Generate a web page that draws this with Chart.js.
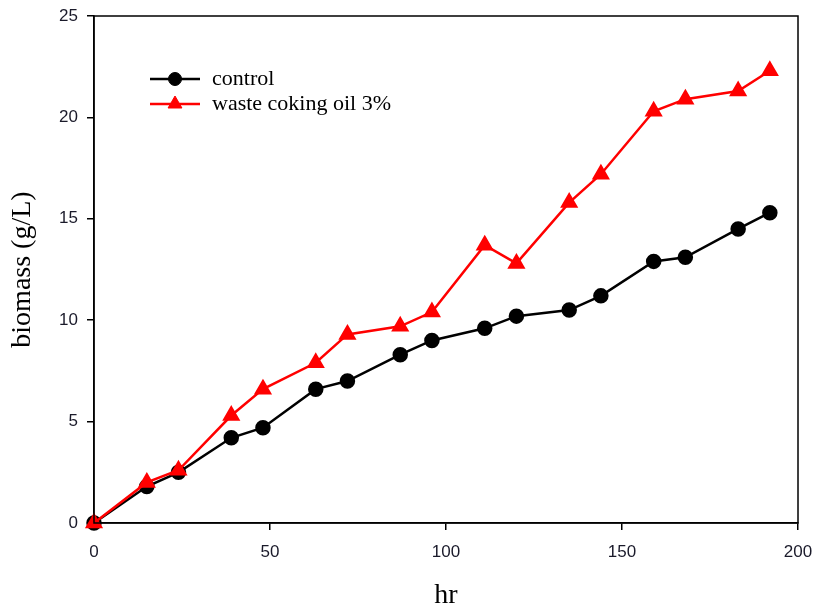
<!DOCTYPE html>
<html>
<head>
<meta charset="utf-8">
<script src="https://cdn.jsdelivr.net/npm/chart.js@4.4.1/dist/chart.umd.min.js"></script>
<style>
  html, body { margin: 0; padding: 0; background: #fff; }
  #wrap { width: 814px; height: 615px; }
</style>
</head>
<body>
<div id="wrap"><canvas id="chart"></canvas></div>
<script>
// hours
var hours = [0, 15, 24, 39, 48, 63, 72, 87, 96, 111, 120, 135, 144, 159, 168, 183, 192];
// biomass g/L
var control = [0, 1.8, 2.5, 4.2, 4.7, 6.6, 7.0, 8.3, 9.0, 9.6, 10.2, 10.5, 11.2, 12.9, 13.1, 14.5, 15.3];
var wasteOil = [0, 2.0, 2.6, 5.3, 6.6, 7.9, 9.3, 9.7, 10.4, 13.7, 12.8, 15.8, 17.2, 20.3, 20.9, 21.3, 22.3];
var seriesNames = ["control", "waste coking oil 3%"];
var xTicks = [0, 50, 100, 150, 200];
var yTicks = [0, 5, 10, 15, 20, 25];

function toPoints(xs, ys) {
    return xs.map(function(x, i) { return { x: x, y: ys[i] }; });
}

// caja alrededor del area y leyenda dentro
var boxAndLegend = {
    id: "boxAndLegend",
    afterDatasetsDraw: function(chart) {
        var ctx = chart.ctx, a = chart.chartArea;
        ctx.save();
        ctx.strokeStyle = "#000";
        ctx.lineWidth = 1.5;
        ctx.strokeRect(a.left, a.top, a.right - a.left, a.bottom - a.top);

        var x0 = 150, x1 = 200, ty = 79;
        chart.data.datasets.forEach(function(ds, i) {
            var y = ty + i * 25;
            ctx.strokeStyle = ds.borderColor;
            ctx.lineWidth = ds.borderWidth;
            ctx.beginPath();
            ctx.moveTo(x0, y);
            ctx.lineTo(x1, y);
            ctx.stroke();
            ctx.fillStyle = ds.pointBackgroundColor;
            ctx.strokeStyle = ds.pointBorderColor;
            ctx.lineWidth = 1;
            Chart.helpers.drawPoint(ctx, {
                pointStyle: ds.pointStyle,
                radius: ds.pointRadius,
                borderWidth: 1
            }, (x0 + x1) / 2, y);
            ctx.fillStyle = "#000";
            ctx.font = "22px 'Liberation Serif'";
            ctx.textBaseline = "middle";
            ctx.fillText(ds.label, 212, y);
        });
        ctx.restore();
    }
};

var ctx = document.getElementById("chart").getContext("2d");
var chart = new Chart(ctx, {
    type: "scatter",
    data: {
        datasets: [{
            label: seriesNames[0],
            data: toPoints(hours, control),
            showLine: true,
            borderColor: "#000",
            backgroundColor: "#000",
            borderWidth: 2.5,
            pointStyle: "circle",
            pointRadius: 6.5,
            pointBackgroundColor: "#000",
            pointBorderColor: "#000",
            clip: false,
            order: 1
        }, {
            label: seriesNames[1],
            data: toPoints(hours, wasteOil),
            showLine: true,
            borderColor: "#ff0000",
            backgroundColor: "#ff0000",
            borderWidth: 2.5,
            pointStyle: "triangle",
            pointRadius: 8,
            pointBackgroundColor: "#ff0000",
            pointBorderColor: "#ff0000",
            clip: false,
            order: 0
        }]
    },
    options: {
        responsive: true,
        maintainAspectRatio: false,
        animation: false,
        layout: { padding: { top: 16, right: 16, left: 0, bottom: 0 } },
        plugins: {
            legend: { display: false },
            tooltip: { enabled: false }
        },
        scales: {
            x: {
                type: "linear",
                min: 0,
                max: 200,
                afterBuildTicks: function(axis) {
                    axis.ticks = xTicks.map(function(v) { return { value: v }; });
                },
                afterFit: function(axis) {
                    axis.height = 92;
                    axis.paddingLeft = 0;
                    axis.paddingRight = 0;
                },
                grid: { drawOnChartArea: false, drawTicks: true, tickLength: 7, color: "#000", lineWidth: 1.5 },
                border: { display: true, color: "#000", width: 1.5 },
                ticks: { color: "#1a1a2a", font: { family: "'Liberation Sans'", size: 17 }, padding: 12, maxRotation: 0 },
                title: {
                    display: true,
                    text: "hr",
                    color: "#000",
                    font: { family: "'Liberation Serif'", size: 28 },
                    padding: { top: 0, bottom: 3 }
                }
            },
            y: {
                type: "linear",
                min: 0,
                max: 25,
                afterBuildTicks: function(axis) {
                    axis.ticks = yTicks.map(function(v) { return { value: v }; });
                },
                afterFit: function(axis) {
                    axis.width = 94;
                    axis.paddingTop = 0;
                    axis.paddingBottom = 0;
                },
                grid: { drawOnChartArea: false, drawTicks: true, tickLength: 7, color: "#000", lineWidth: 1.5 },
                border: { display: true, color: "#000", width: 1.5 },
                ticks: { color: "#1a1a2a", font: { family: "'Liberation Sans'", size: 17 }, padding: 9 },
                title: {
                    display: true,
                    text: "biomass (g/L)",
                    color: "#000",
                    font: { family: "'Liberation Serif'", size: 28 },
                    padding: { top: 6, bottom: 0 }
                }
            }
        }
    },
    plugins: [boxAndLegend]
});
</script>
</body>
</html>
